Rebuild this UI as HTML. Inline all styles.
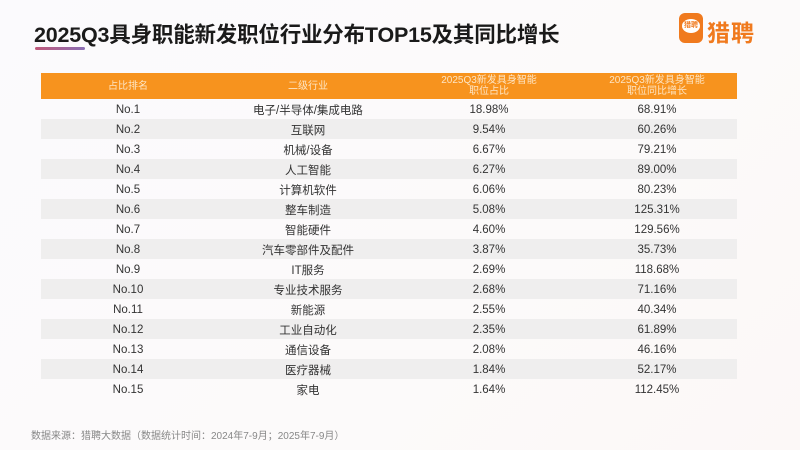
<!DOCTYPE html>
<html><head><meta charset="utf-8"><style>
*{margin:0;padding:0;box-sizing:border-box}
body{width:800px;height:450px;overflow:hidden;background:linear-gradient(135deg,#fbfafd 0%,#fcfafa 60%,#fcf8f7 100%);font-family:"Liberation Sans","Noto Sans CJK SC",sans-serif;position:relative}
.title{position:absolute;left:34px;top:18px;font-size:21.5px;font-weight:bold;color:#1a1a1a;letter-spacing:-0.2px;white-space:nowrap}
.ul{position:absolute;left:35px;top:47px;width:50px;height:3px;background:linear-gradient(90deg,#c0587a,#8a6fb5);border-radius:2px}
.logo{position:absolute;left:679px;top:13px;width:24px;height:30px;background:#f07a1e;border-radius:6px}
.logo i{position:absolute;left:3px;top:6px;width:18px;height:14px;background:#fff;border-radius:50%;font-style:normal;font-size:7px;color:#f07a1e;text-align:center;line-height:14px;font-weight:bold}
.lt{position:absolute;left:707px;top:14px;font-size:23px;font-weight:bold;color:#f07a1e;letter-spacing:1px}
table{position:absolute;left:41px;top:73px;width:696px;border-collapse:collapse;font-size:11.5px;color:#333}
th{background:#f7931e;color:#fde5c4;font-weight:normal;height:26px;font-size:10px;line-height:11px}
td{height:20px;text-align:center;padding:2px 0 0 0}
tr:nth-child(odd) td{background:#efeeee}
.f{position:absolute;left:31px;top:427px;font-size:10px;color:#888}
</style></head><body>
<div class="title">2025Q3具身职能新发职位行业分布TOP15及其同比增长</div>
<div class="ul"></div>
<div class="logo"><i>猎聘</i></div>
<div class="lt">猎聘</div>
<table>
<colgroup><col style="width:174px"><col style="width:186px"><col style="width:176px"><col style="width:160px"></colgroup>
<tr><th>占比排名</th><th>二级行业</th><th>2025Q3新发具身智能<br>职位占比</th><th>2025Q3新发具身智能<br>职位同比增长</th></tr>
<tr><td>No.1</td><td>电子/半导体/集成电路</td><td>18.98%</td><td>68.91%</td></tr>
<tr><td>No.2</td><td>互联网</td><td>9.54%</td><td>60.26%</td></tr>
<tr><td>No.3</td><td>机械/设备</td><td>6.67%</td><td>79.21%</td></tr>
<tr><td>No.4</td><td>人工智能</td><td>6.27%</td><td>89.00%</td></tr>
<tr><td>No.5</td><td>计算机软件</td><td>6.06%</td><td>80.23%</td></tr>
<tr><td>No.6</td><td>整车制造</td><td>5.08%</td><td>125.31%</td></tr>
<tr><td>No.7</td><td>智能硬件</td><td>4.60%</td><td>129.56%</td></tr>
<tr><td>No.8</td><td>汽车零部件及配件</td><td>3.87%</td><td>35.73%</td></tr>
<tr><td>No.9</td><td>IT服务</td><td>2.69%</td><td>118.68%</td></tr>
<tr><td>No.10</td><td>专业技术服务</td><td>2.68%</td><td>71.16%</td></tr>
<tr><td>No.11</td><td>新能源</td><td>2.55%</td><td>40.34%</td></tr>
<tr><td>No.12</td><td>工业自动化</td><td>2.35%</td><td>61.89%</td></tr>
<tr><td>No.13</td><td>通信设备</td><td>2.08%</td><td>46.16%</td></tr>
<tr><td>No.14</td><td>医疗器械</td><td>1.84%</td><td>52.17%</td></tr>
<tr><td>No.15</td><td>家电</td><td>1.64%</td><td>112.45%</td></tr>
</table>
<div class="f">数据来源：猎聘大数据（数据统计时间：2024年7-9月；2025年7-9月）</div>
</body></html>
